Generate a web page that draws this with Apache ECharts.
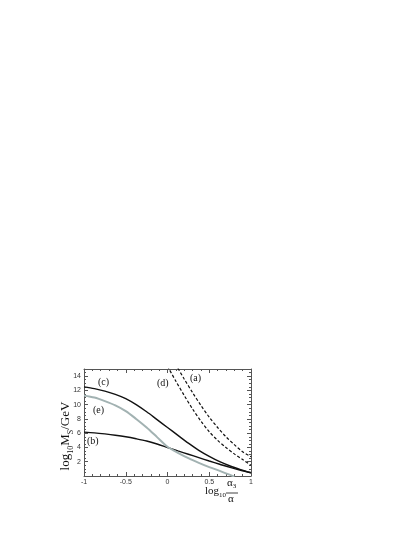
<!DOCTYPE html>
<html>
<head>
<meta charset="utf-8">
<script src="https://cdn.jsdelivr.net/npm/echarts@6/dist/echarts.min.js"></script>
<style>html,body{margin:0;padding:0;background:#fff;}#c{width:415px;height:537px;}</style>
</head>
<body>
<div id="c"></div>
<script>
// x values (log10 alpha3/alpha)
var xSolid = [-1, -0.875, -0.75, -0.625, -0.5, -0.375, -0.25, -0.125, 0, 0.125, 0.25, 0.375, 0.5, 0.625, 0.75, 0.875, 1];
var curveC = [12.5, 12.25, 11.9, 11.45, 10.85, 10.0, 9.0, 7.9, 6.8, 5.7, 4.6, 3.6, 2.75, 2.0, 1.4, 0.9, 0.45];
var curveB = [6.15, 6.05, 5.9, 5.72, 5.5, 5.22, 4.9, 4.48, 4.0, 3.52, 3.05, 2.57, 2.1, 1.65, 1.2, 0.8, 0.45];
var xE = [-1, -0.875, -0.75, -0.625, -0.5, -0.375, -0.25, -0.125, 0, 0.125, 0.25, 0.375, 0.5, 0.625, 0.75, 0.8];
var curveE = [11.3, 11.0, 10.5, 9.9, 9.1, 8.0, 6.8, 5.45, 4.1, 3.25, 2.5, 1.85, 1.25, 0.72, 0.15, -0.1];
var xDash = [0, 0.1, 0.2, 0.3, 0.4, 0.5, 0.6, 0.7, 0.8, 0.9, 1.0];
var curveD = [15.4, 13.3, 11.3, 9.4, 7.7, 6.2, 5.0, 4.0, 3.1, 2.3, 1.5];
var curveA = [17.5, 15.6, 13.6, 11.7, 9.9, 8.25, 6.8, 5.5, 4.4, 3.4, 2.7];
var xTicks = [-1, -0.5, 0, 0.5, 1];
var yTicks = [2, 4, 6, 8, 10, 12, 14];

function pairs(xs, ys) { return xs.map(function (x, i) { return [x, ys[i]]; }); }

var chart = echarts.init(document.getElementById('c'));
var frameColor = '#555';
var tickFont = {fontFamily: 'Liberation Sans', fontSize: 7, color: '#333'};

function xAx(pos, labels) {
  return {
    type: 'value', position: pos, min: -1, max: 1, interval: 0.5,
    axisLine: {show: true, onZero: false, lineStyle: {color: frameColor, width: 1}},
    axisTick: {show: true, inside: true, length: 4, lineStyle: {color: frameColor}},
    minorTick: {show: true, splitNumber: 5, length: 2, lineStyle: {color: frameColor}},
    splitLine: {show: false},
    axisLabel: labels ? Object.assign({show: true, margin: 3, formatter: function (v) {
      return xTicks.indexOf(v) >= 0 ? String(v) : ''; }}, tickFont) : {show: false}
  };
}
function yAx(pos, labels) {
  return {
    type: 'value', position: pos, min: 0, max: 15, interval: 2,
    axisLine: {show: true, onZero: false, lineStyle: {color: frameColor, width: 1}},
    axisTick: {show: true, inside: true, length: 4, lineStyle: {color: frameColor}},
    minorTick: {show: true, splitNumber: 4, length: 2, lineStyle: {color: frameColor}},
    splitLine: {show: false},
    axisLabel: labels ? Object.assign({show: true, margin: 3, formatter: function (v) {
      return yTicks.indexOf(v) >= 0 ? String(v) : ''; }}, tickFont) : {show: false}
  };
}

var solid = {color: '#111', width: 1.4};
function ser(xs, ys, ls) {
  return {type: 'line', data: pairs(xs, ys), smooth: 0.3,
    showSymbol: false, lineStyle: ls, clip: true};
}
var option = {
  animation: false,
  backgroundColor: '#fff',
  grid: {left: 84, right: 164, top: 369, bottom: 61, containLabel: false},
  xAxis: [xAx('bottom', true), xAx('top', false)],
  yAxis: [yAx('left', true), yAx('right', false)],
  series: [
    ser(xSolid, curveC, solid),
    ser(xSolid, curveB, solid),
    ser(xE, curveE, {color: '#a2b2b2', width: 2}),
    ser(xDash, curveD, {color: '#111', width: 1.2, type: [3, 2]}),
    ser(xDash, curveA, {color: '#111', width: 1.2, type: [3, 2]})
  ],
  graphic: [
    {type: 'text', left: 98, top: 377, style: {text: '(c)', font: '10px "Liberation Serif"', fill: '#111'}},
    {type: 'text', left: 93, top: 405, style: {text: '(e)', font: '10px "Liberation Serif"', fill: '#111'}},
    {type: 'text', left: 87, top: 436, style: {text: '(b)', font: '10px "Liberation Serif"', fill: '#111'}},
    {type: 'text', left: 157, top: 378, style: {text: '(d)', font: '10px "Liberation Serif"', fill: '#111'}},
    {type: 'text', left: 190, top: 373, style: {text: '(a)', font: '10px "Liberation Serif"', fill: '#111'}},
    {type: 'text', x: 66, y: 436, rotation: Math.PI / 2,
      style: {
        text: '{b|log}{s|10}{b|M}{s|S}{b|/GeV}',
        align: 'center', verticalAlign: 'middle',
        rich: {
          b: {fontFamily: 'Liberation Serif', fontSize: 13, lineHeight: 18, verticalAlign: 'middle', fill: '#111'},
          s: {fontFamily: 'Liberation Serif', fontSize: 8, lineHeight: 18, verticalAlign: 'bottom', fill: '#111'}
        }
      }},
    {type: 'text', left: 205, top: 486,
      style: {
        text: '{b|log}{s|10}',
        rich: {
          b: {fontFamily: 'Liberation Serif', fontSize: 11, lineHeight: 14, verticalAlign: 'middle', fill: '#111'},
          s: {fontFamily: 'Liberation Serif', fontSize: 7, lineHeight: 14, verticalAlign: 'bottom', fill: '#111'}
        }
      }},
    {type: 'text', left: 227, top: 478,
      style: {
        text: '{b|α}{s|3}',
        rich: {
          b: {fontFamily: 'Liberation Serif', fontSize: 11, lineHeight: 13, verticalAlign: 'middle', fill: '#111'},
          s: {fontFamily: 'Liberation Serif', fontSize: 7, lineHeight: 13, verticalAlign: 'bottom', fill: '#111'}
        }
      }},
    {type: 'line', shape: {x1: 226, y1: 493, x2: 238, y2: 493}, style: {stroke: '#111', lineWidth: 0.8}},
    {type: 'text', left: 228, top: 494, style: {text: 'α', font: '11px "Liberation Serif"', fill: '#111'}}
  ]
};
chart.setOption(option);
</script>
</body>
</html>
